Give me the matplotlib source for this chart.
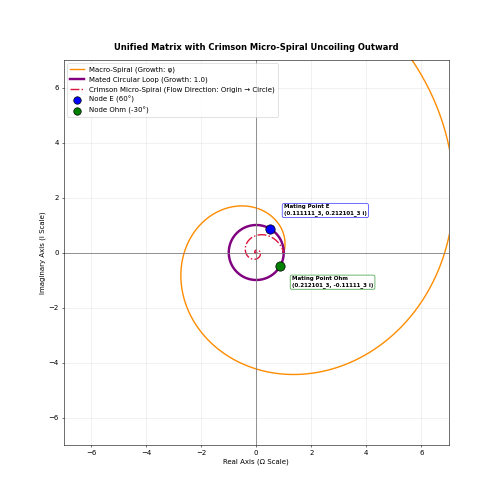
import numpy as np
import matplotlib
matplotlib.use('Agg')
import matplotlib.pyplot as plt

# spiral parameters
phi = (1 + 5 ** 0.5) / 2
macro_growth = phi          # radius grows by phi every quarter turn
macro_turns = [0.0, 2.0]    # turns, start at (1, 0)
loop_radius = 1.0
micro_turns = [-3.0, 0.0]   # clockwise, ends on the circle at (1, 0)

node_names = ['Node E (60°)', 'Node Ohm (-30°)']
node_angles = [60, -30]
node_colors = ['blue', 'green']
note_texts = ['Mating Point E\n(0.111111_3, 0.212101_3 i)',
              'Mating Point Ohm\n(0.212101_3, -0.11111_3 i)']
note_offsets = [(20, 21), (17, -28)]

fig, ax = plt.subplots(figsize=(10, 10), dpi=50)

# macro spiral
t = np.linspace(macro_turns[0], macro_turns[1], 2000) * 2 * np.pi
r = macro_growth ** (2 * t / np.pi)
ax.plot(r * np.cos(t), r * np.sin(t), color='darkorange', linewidth=2,
        label='Macro-Spiral (Growth: φ)')

# unit circle
c = np.linspace(0, 2 * np.pi, 400)
ax.plot(loop_radius * np.cos(c), loop_radius * np.sin(c), color='purple',
        linewidth=3.5, label='Mated Circular Loop (Growth: 1.0)')

# micro spiral (mirror of the golden spiral, inside the circle)
m = np.linspace(micro_turns[0], micro_turns[1], 1500) * 2 * np.pi
rm = macro_growth ** (2 * m / np.pi)
ax.plot(rm * np.cos(m), -rm * np.sin(m), color='crimson', linestyle='-.',
        linewidth=2, label='Crimson Micro-Spiral (Flow Direction: Origin → Circle)')

for name, ang, col, txt, off in zip(node_names, node_angles, node_colors,
                                    note_texts, note_offsets):
    x = loop_radius * np.cos(np.radians(ang))
    y = loop_radius * np.sin(np.radians(ang))
    ax.scatter([x], [y], s=180, color=col, edgecolor='black', zorder=5, label=name)
    ax.annotate(txt, (x, y), xytext=off, textcoords='offset points',
                fontsize=8, fontweight='bold',
                bbox=dict(boxstyle='round,pad=0.3', facecolor='white', edgecolor=col, alpha=0.8))

ax.axhline(0, color='gray', linewidth=1.2)
ax.axvline(0, color='gray', linewidth=1.2)
ax.grid(True, alpha=0.3)
ax.set_xlim(-7, 7)
ax.set_ylim(-7, 7)
ax.set_aspect('equal')
ax.set_title('Unified Matrix with Crimson Micro-Spiral Uncoiling Outward',
             fontsize=12, fontweight='bold', pad=15)
ax.set_xlabel('Real Axis (Ω Scale)')
ax.set_ylabel('Imaginary Axis (i Scale)')
ax.legend(loc='upper left', markerscale=0.8)

plt.savefig('out.png')
